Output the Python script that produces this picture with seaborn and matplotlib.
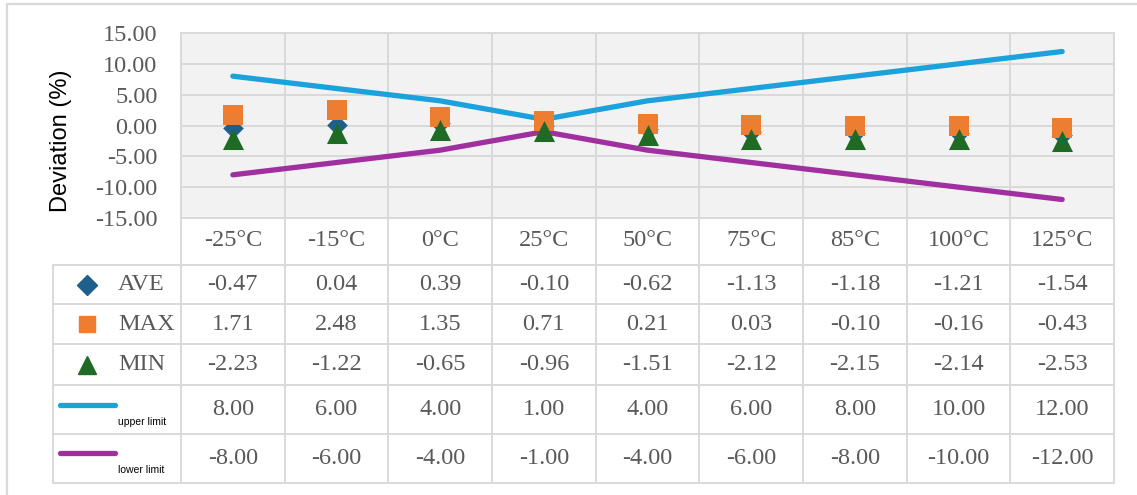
import numpy as np
import pandas as pd
import matplotlib
matplotlib.use('Agg')
import matplotlib.pyplot as plt
from matplotlib.lines import Line2D
import seaborn as sns

sns.set_theme(style='white')

# chart values
temps = ['-25°C', '-15°C', '0°C', '25°C', '50°C', '75°C', '85°C', '100°C', '125°C']
ave = [-0.47, 0.04, 0.39, -0.10, -0.62, -1.13, -1.18, -1.21, -1.54]
mx = [1.71, 2.48, 1.35, 0.71, 0.21, 0.03, -0.10, -0.16, -0.43]
mn = [-2.23, -1.22, -0.65, -0.96, -1.51, -2.12, -2.15, -2.14, -2.53]
upper = [8.00, 6.00, 4.00, 1.00, 4.00, 6.00, 8.00, 10.00, 12.00]
lower = [-8.00, -6.00, -4.00, -1.00, -4.00, -6.00, -8.00, -10.00, -12.00]
yticks = [-15, -10, -5, 0, 5, 10, 15]

df = pd.DataFrame({'temp': temps, 'AVE': ave, 'MAX': mx, 'MIN': mn,
                   'upper': upper, 'lower': lower})

c_ave = '#1f5f8b'
c_max = '#ed7d31'
c_min = '#1f6b26'
c_up = '#1ba1dc'
c_lo = '#a0309f'
grid_c = '#d9d9d9'
txt_c = '#595959'
serif = 'Liberation Serif'
fs = 17.5

W, H = 1137, 495
fig = plt.figure(figsize=(W / 100, H / 100), dpi=100)

# plot area
ax = fig.add_axes([181 / W, 1 - 218 / H, (1114 - 181) / W, (218 - 33) / H])
ax.set_facecolor('#f2f2f2')

sns.lineplot(data=df, x='temp', y='upper', sort=False, errorbar=None,
             color=c_up, linewidth=3.8, ax=ax, zorder=2)
sns.lineplot(data=df, x='temp', y='lower', sort=False, errorbar=None,
             color=c_lo, linewidth=3.8, ax=ax, zorder=2)
sns.scatterplot(data=df, x='temp', y='AVE', marker='D', s=110, color=c_ave,
                linewidth=0, ax=ax, zorder=3)
sns.scatterplot(data=df, x='temp', y='MAX', marker='s', s=190, color=c_max,
                linewidth=0, ax=ax, zorder=4)
sns.scatterplot(data=df, x='temp', y='MIN', marker='^', s=230, color=c_min,
                linewidth=0, ax=ax, zorder=5)

ax.set_xlim(-0.5, len(temps) - 0.5)
ax.set_ylim(-15, 15)
ax.set_yticks(yticks)
ax.set_yticklabels(['%.2f' % v for v in yticks], family=serif, fontsize=fs, color=txt_c)
ax.set_xticks(np.arange(len(temps) + 1) - 0.5)
ax.set_xticklabels([])
ax.tick_params(length=0, pad=17)
ax.grid(True, color=grid_c, linewidth=1.4)
ax.set_axisbelow(True)
ax.set_xlabel('')
ax.set_ylabel('')
for sp in ax.spines.values():
    sp.set_color(grid_c)
    sp.set_linewidth(1.4)

fig.text(61 / W, 1 - 141 / H, 'Deviation (%)', rotation=90, ha='center', va='center',
         family='Liberation Sans', fontsize=17, color='black')

# data table under the plot
ncat = len(temps)
hw = 128 / 103.67
tax = fig.add_axes([53 / W, 1 - 483 / H, (1114 - 53) / W, (483 - 218) / H])
tax.set_xlim(-0.5 - hw, ncat - 0.5)
tax.set_ylim(265, 0)
tax.axis('off')

rows = [0, 47, 86, 126, 167, 216, 265]
x0 = -0.5 - hw
for i in range(ncat + 1):
    tax.plot([i - 0.5, i - 0.5], [0, 265], color=grid_c, lw=1.4, clip_on=False)
tax.plot([x0, x0], [47, 265], color=grid_c, lw=1.4, clip_on=False)
for r in rows[1:]:
    tax.plot([x0, ncat - 0.5], [r, r], color=grid_c, lw=1.4, clip_on=False)

for i, t in enumerate(temps):
    tax.text(i, 23, t, ha='center', va='center', family=serif, fontsize=fs, color=txt_c)

series = [ave, mx, mn, upper, lower]
for k, vals in enumerate(series):
    yc = (rows[k + 1] + rows[k + 2]) / 2
    for i, v in enumerate(vals):
        tax.text(i, yc, '%.2f' % v, ha='center', va='center', family=serif,
                 fontsize=fs, color=txt_c)

mk_x = x0 + (87 - 53) / 103.67
lab_x = x0 + (118 - 53) / 103.67
for k, (m, c, name, ms) in enumerate([('D', c_ave, 'AVE', 10), ('s', c_max, 'MAX', 12),
                                      ('^', c_min, 'MIN', 13)]):
    yc = (rows[k + 1] + rows[k + 2]) / 2
    tax.plot([mk_x], [yc], marker=m, color=c, markersize=ms, linestyle='none', clip_on=False)
    tax.text(lab_x, yc, name, ha='left', va='center', family=serif, fontsize=fs, color=txt_c)

ls_x0 = x0 + 7 / 103.67
ls_x1 = x0 + 62 / 103.67
for ly, ty, c, name in [(187, 204, c_up, 'upper limit'), (235, 252, c_lo, 'lower limit')]:
    tax.plot([ls_x0, ls_x1], [ly, ly], color=c, lw=3.8, solid_capstyle='round', clip_on=False)
    tax.text(lab_x, ty, name, ha='left', va='center', family='Liberation Sans',
             fontsize=7.5, color='black')

# outer chart frame (cropped in the reference)
fig.add_artist(Line2D([7 / W, 1], [1 - 4 / H, 1 - 4 / H], color=grid_c, lw=1.6))
fig.add_artist(Line2D([7 / W, 7 / W], [0, 1 - 4 / H], color=grid_c, lw=1.6))

fig.savefig('out.png', dpi=100)
